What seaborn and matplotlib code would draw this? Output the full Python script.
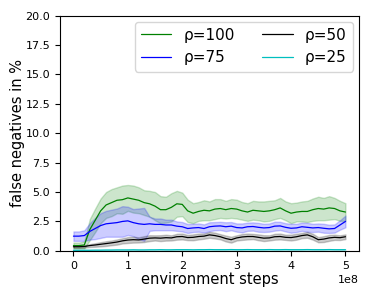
import numpy as np
import pandas as pd
import matplotlib
matplotlib.use("Agg")
import matplotlib.pyplot as plt
import seaborn as sns

# environment steps (x 1e8)
steps = [0.0, 0.1, 0.2, 0.3, 0.4, 0.5, 0.6, 0.7, 0.8, 0.9,
         1.0, 1.1, 1.2, 1.3, 1.4, 1.5, 1.6, 1.7, 1.8, 1.9,
         2.0, 2.1, 2.2, 2.3, 2.4, 2.5, 2.6, 2.7, 2.8, 2.9,
         3.0, 3.1, 3.2, 3.3, 3.4, 3.5, 3.6, 3.7, 3.8, 3.9,
         4.0, 4.1, 4.2, 4.3, 4.4, 4.5, 4.6, 4.7, 4.8, 4.9, 5.0]

rho100 = [0.45, 0.45, 0.5, 1.8, 2.6, 3.4, 3.9, 4.1, 4.3, 4.35,
          4.5, 4.4, 4.3, 4.1, 4.0, 3.8, 3.5, 3.5, 3.7, 4.0,
          3.95, 3.4, 3.2, 3.35, 3.45, 3.4, 3.55, 3.6, 3.5, 3.6,
          3.55, 3.4, 3.3, 3.45, 3.4, 3.35, 3.4, 3.5, 3.65, 3.4,
          3.2, 3.3, 3.35, 3.35, 3.5, 3.6, 3.55, 3.65, 3.6, 3.4, 3.3]
rho100_sd = [0.25, 0.25, 0.3, 0.9, 1.0, 1.05, 1.1, 1.15, 1.1, 1.2,
             1.1, 1.15, 1.1, 1.05, 1.1, 1.2, 1.15, 1.1, 1.2, 1.1,
             1.0, 0.95, 0.85, 0.8, 0.85, 0.8, 0.85, 0.8, 0.75, 0.8,
             0.8, 0.75, 0.75, 0.8, 0.8, 0.85, 0.85, 0.8, 0.85, 0.8,
             0.85, 0.8, 0.85, 0.9, 0.95, 1.0, 0.95, 1.0, 0.9, 0.85, 0.75]

rho75 = [1.25, 1.25, 1.3, 1.65, 1.9, 2.15, 2.3, 2.35, 2.4, 2.5,
         2.55, 2.4, 2.3, 2.25, 2.3, 2.25, 2.25, 2.2, 2.2, 2.1,
         2.05, 1.9, 1.95, 1.98, 1.9, 2.05, 2.1, 2.12, 2.05, 2.1,
         1.98, 1.95, 2.05, 2.07, 2.0, 1.95, 1.98, 2.1, 2.12, 2.0,
         1.92, 1.95, 2.05, 2.0, 1.95, 1.98, 1.92, 1.87, 1.9, 2.2, 2.5]
rho75_sd = [0.4, 0.4, 0.45, 0.7, 0.9, 1.05, 1.1, 1.15, 1.2, 1.3,
            1.2, 1.15, 1.3, 1.4, 0.6, 0.5, 0.5, 0.45, 0.45, 0.4,
            0.4, 0.38, 0.35, 0.35, 0.35, 0.38, 0.35, 0.35, 0.38, 0.35,
            0.35, 0.38, 0.35, 0.35, 0.38, 0.35, 0.35, 0.38, 0.35, 0.35,
            0.38, 0.35, 0.35, 0.38, 0.35, 0.35, 0.38, 0.35, 0.35, 0.4, 0.5]

rho50 = [0.35, 0.35, 0.37, 0.45, 0.5, 0.56, 0.62, 0.68, 0.75, 0.85,
         0.92, 0.95, 0.93, 1.0, 1.08, 1.1, 1.08, 1.12, 1.1, 1.2,
         1.22, 1.13, 1.15, 1.22, 1.25, 1.36, 1.3, 1.2, 1.05, 0.95,
         1.1, 1.18, 1.22, 1.22, 1.15, 1.08, 1.1, 1.2, 1.22, 1.15,
         1.13, 1.2, 1.3, 1.36, 1.2, 0.95, 1.0, 1.1, 1.15, 1.12, 1.2]
rho50_sd = [0.1, 0.1, 0.1, 0.12, 0.15, 0.18, 0.2, 0.2, 0.22, 0.22,
            0.25, 0.25, 0.22, 0.25, 0.25, 0.22, 0.25, 0.25, 0.22, 0.25,
            0.25, 0.22, 0.25, 0.25, 0.22, 0.25, 0.25, 0.22, 0.25, 0.25,
            0.22, 0.25, 0.25, 0.22, 0.25, 0.25, 0.22, 0.25, 0.25, 0.22,
            0.25, 0.25, 0.22, 0.25, 0.25, 0.22, 0.25, 0.25, 0.22, 0.2, 0.2]

rho25 = [0.05, 0.05, 0.05, 0.05, 0.06, 0.06, 0.07, 0.07, 0.08, 0.08,
         0.08, 0.09, 0.08, 0.08, 0.09, 0.09, 0.1, 0.09, 0.09, 0.1,
         0.1, 0.1, 0.09, 0.1, 0.1, 0.11, 0.1, 0.1, 0.1, 0.11,
         0.1, 0.1, 0.11, 0.1, 0.1, 0.1, 0.11, 0.1, 0.1, 0.11,
         0.1, 0.1, 0.1, 0.11, 0.1, 0.1, 0.1, 0.11, 0.1, 0.1, 0.1]
rho25_sd = [0.03] * 51

labels = ["ρ=100", "ρ=75", "ρ=50", "ρ=25"]
colors = ["green", "blue", "black", "c"]
means = [rho100, rho75, rho50, rho25]
sds = [rho100_sd, rho75_sd, rho50_sd, rho25_sd]

sns.set_style("ticks")
plt.rcParams["text.color"] = "black"
plt.rcParams["axes.labelcolor"] = "black"
plt.rcParams["xtick.color"] = "black"
plt.rcParams["ytick.color"] = "black"

fig = plt.figure(figsize=(3.74, 2.99), dpi=100)
ax = fig.add_axes([0.160, 0.161, 0.800, 0.787])

x = np.array(steps) * 1e8
for lab, col, m, s in zip(labels, colors, means, sds):
    m = np.array(m)
    s = np.array(s)
    df = pd.DataFrame({"steps": x, "fn": m})
    sns.lineplot(data=df, x="steps", y="fn", color=col, linewidth=0.9,
                 label=lab, ax=ax, errorbar=None)
    # shaded band around the mean
    ax.fill_between(x, m - s, m + s, color=col, alpha=0.2)

ax.set_ylim(0, 20)
ax.set_yticks([0, 2.5, 5, 7.5, 10, 12.5, 15, 17.5, 20])
ax.set_xticks([0, 1e8, 2e8, 3e8, 4e8, 5e8])
ax.tick_params(labelsize=8, length=3.5, width=0.8)
ax.xaxis.get_offset_text().set_fontsize(8)
ax.set_xlabel("environment steps", fontsize=10.5, labelpad=1)
ax.set_ylabel("false negatives in %", fontsize=10.5, labelpad=0)
for sp in ax.spines.values():
    sp.set_linewidth(0.8)
    sp.set_color("black")
ax.legend(loc="upper right", ncol=2, fontsize=11, handlelength=2,
          borderaxespad=0.4, columnspacing=1.8)

fig.savefig("out.png", dpi=100)
